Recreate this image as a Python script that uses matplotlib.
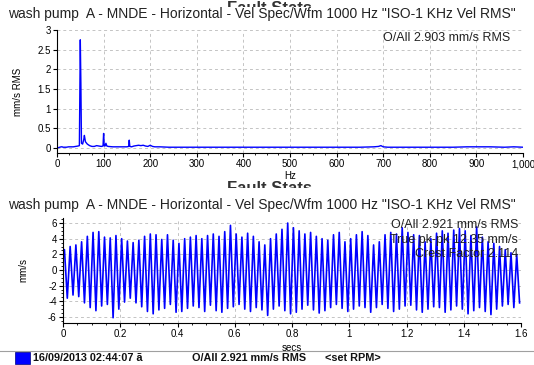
import numpy as np
import matplotlib.pyplot as plt
from matplotlib.ticker import FuncFormatter, MultipleLocator, AutoMinorLocator
from matplotlib.patches import Rectangle
from matplotlib.lines import Line2D
from matplotlib.transforms import Bbox, TransformedBbox

plt.rcParams['font.family'] = ['Liberation Sans', 'DejaVu Sans']

TITLE = 'wash pump  A - MNDE - Horizontal - Vel Spec/Wfm 1000 Hz "ISO-1 KHz Vel RMS"'
HIDDEN = 'Fault Stats'

# spectrum, Hz vs mm/s RMS
spec_hz = [0, 3, 6, 9, 11, 13, 16, 20, 25, 30, 35, 40, 45, 48, 50, 51.25, 52.5, 55,
           57.5, 58.75, 61, 65, 70, 75, 80, 85, 90, 95, 98.75, 100, 101.25, 103, 105,
           107, 110, 120, 130, 140, 150, 153.75, 155, 156.25, 160, 165, 170, 175, 180,
           185, 190, 195, 200, 205, 210, 220, 240, 260, 280, 300, 330, 360, 400, 450,
           500, 550, 600, 650, 680, 690, 695, 700, 710, 750, 800, 850, 880, 900, 930,
           960, 980, 1000]
spec_amp = [0.01, 0.01, 0.02, 0.03, 0.03, 0.02, 0.02, 0.02, 0.03, 0.03, 0.03, 0.04, 0.05,
            0.06, 2.75, 1.65, 0.12, 0.10, 0.22, 0.32, 0.16, 0.10, 0.06, 0.04, 0.04, 0.06,
            0.05, 0.04, 0.05, 0.37, 0.06, 0.05, 0.12, 0.05, 0.04, 0.03, 0.03, 0.03, 0.03,
            0.04, 0.20, 0.04, 0.03, 0.05, 0.06, 0.07, 0.06, 0.07, 0.05, 0.04, 0.07, 0.04,
            0.03, 0.03, 0.02, 0.02, 0.02, 0.02, 0.02, 0.02, 0.02, 0.02, 0.02, 0.02, 0.02,
            0.02, 0.03, 0.04, 0.06, 0.03, 0.02, 0.02, 0.02, 0.02, 0.03, 0.03, 0.03, 0.02,
            0.03, 0.02]

# waveform: per-cycle peaks and troughs, mm/s
wave_freq = 50.0
wave_peaks = [2.6, 3.0, 3.2, 3.6, 4.3, 4.8, 4.9, 4.2, 4.1, 4.4,
              4.0, 3.7, 3.5, 3.8, 4.3, 4.6, 4.5, 3.9, 4.5, 3.8,
              3.4, 4.0, 4.2, 4.4, 4.0, 4.4, 4.6, 4.3, 4.9, 5.7,
              4.6, 4.2, 4.7, 4.3, 3.6, 3.2, 4.0, 4.6, 5.2, 6.0,
              5.4, 5.0, 4.6, 4.8, 4.3, 4.0, 3.8, 4.5, 4.8, 3.6,
              4.0, 4.5, 4.9, 4.4, 3.2, 3.6, 4.5, 4.8, 4.6, 5.4,
              4.8, 4.5, 4.4, 3.6, 4.0, 4.7, 5.0, 4.7, 5.1, 5.3,
              5.0, 4.4, 5.5, 4.2, 3.6, 3.4, 3.0, 2.6, 2.2, 2.0]
wave_troughs = [-3.6, -3.2, -3.4, -4.2, -4.8, -5.2, -4.6, -4.4, -6.1, -5.0,
                -4.1, -3.6, -4.2, -4.7, -5.3, -5.6, -5.1, -4.9, -4.4, -5.4,
                -5.3, -4.9, -4.6, -4.8, -5.3, -4.5, -5.2, -5.4, -4.9, -4.7,
                -4.4, -5.0, -5.3, -4.8, -5.1, -5.8, -5.0, -4.6, -5.2, -5.6,
                -5.4, -5.0, -4.5, -5.1, -5.5, -5.2, -4.8, -4.4, -4.9, -5.3,
                -5.0, -4.6, -4.8, -5.4, -4.8, -4.4, -4.9, -5.3, -5.0, -4.6,
                -4.5, -5.1, -5.4, -5.0, -4.7, -4.8, -5.4, -5.1, -4.6, -5.0,
                -5.6, -5.2, -4.8, -5.3, -5.7, -5.0, -4.6, -4.4, -4.8, -4.2]

spec_note = 'O/All 2.903 mm/s RMS'
wave_notes = ['O/All 2.921 mm/s RMS', 'True pk-pk 12.35 mm/s', 'Crest Factor 2.114']
status = ['16/09/2013 02:44:07 \u00e3', 'O/All 2.921 mm/s RMS', '<set RPM>']

W, H = 534, 365
fig = plt.figure(figsize=(W / 100, H / 100), dpi=100)

def fx(px):
    return px / W

def fy(py):
    return 1 - py / H

def style_axes(ax):
    for s in ['top', 'right']:
        ax.spines[s].set_visible(False)
    ax.grid(True, which='major', ls=(0, (3, 3)), color='#c4c4c4', lw=0.7)
    ax.tick_params(which='major', labelsize=7, length=3, width=0.8, pad=1.5)
    ax.tick_params(which='minor', length=1.5, width=0.6)

def num_fmt(x, pos):
    if abs(x - round(x)) < 1e-9:
        return f'{int(round(x)):,}'
    return f'{x:g}'

# top: spectrum
ax1 = fig.add_axes([fx(57), fy(153), fx(523) - fx(57), fy(30) - fy(153)])
ax1.plot(spec_hz, spec_amp, color='#0000ff', lw=1.0)
ax1.set_xlim(0, 1000)
ax1.set_ylim(-0.127, 3)
ax1.xaxis.set_major_locator(MultipleLocator(100))
ax1.xaxis.set_minor_locator(AutoMinorLocator(4))
ax1.yaxis.set_major_locator(MultipleLocator(0.5))
ax1.xaxis.set_major_formatter(FuncFormatter(num_fmt))
ax1.yaxis.set_major_formatter(FuncFormatter(num_fmt))
style_axes(ax1)
ax1.set_xlabel('Hz', fontsize=7, labelpad=1)
ax1.set_ylabel('mm/s RMS', fontsize=7, labelpad=10)
ax1.text(fx(510), fy(38), spec_note, transform=fig.transFigure, ha='right', va='center',
         fontsize=9, color='#222222')

# bottom: waveform
t_vals = [0.0]
y_vals = [2.4]
for k in range(len(wave_peaks)):
    t_vals += [(k + 0.25) / wave_freq, (k + 0.75) / wave_freq]
    y_vals += [wave_peaks[k], wave_troughs[k]]

ax2 = fig.add_axes([fx(63), fy(323), fx(521) - fx(63), fy(218) - fy(323)])
ax2.plot(t_vals, y_vals, color='#0000ff', lw=1.2)
ax2.set_xlim(0, 1.6)
ax2.set_ylim(-6.77, 6.64)
ax2.xaxis.set_major_locator(MultipleLocator(0.2))
ax2.xaxis.set_minor_locator(AutoMinorLocator(4))
ax2.yaxis.set_major_locator(MultipleLocator(2))
ax2.yaxis.set_minor_locator(AutoMinorLocator(4))
ax2.xaxis.set_major_formatter(FuncFormatter(num_fmt))
ax2.yaxis.set_major_formatter(FuncFormatter(num_fmt))
style_axes(ax2)
ax2.set_xlabel('secs', fontsize=7, labelpad=3)
ax2.set_ylabel('mm/s', fontsize=7, labelpad=14)
for i, note in enumerate(wave_notes):
    ax2.text(fx(518), fy(225 + 14.5 * i), note, transform=fig.transFigure, ha='right',
             va='center', fontsize=9, color='#222222', zorder=5)

# titles, each with a header behind it of which only the top shows
for ytop, yclip, ytitle in [(1, 7, 14), (181, 188, 205)]:
    hdr = fig.text(0.505, fy(ytop), HIDDEN, ha='center', va='top', fontsize=12,
                   color='#333333', weight='bold')
    hdr.set_clip_box(TransformedBbox(Bbox([[0, fy(yclip)], [1, 1]]), fig.transFigure))
    hdr.set_clip_on(True)
    fig.text(fx(8), fy(ytitle), TITLE, ha='left', va='center', fontsize=10,
             color='#222222')

# status bar
fig.patches.append(Rectangle((0, 0), 1, fy(351), transform=fig.transFigure,
                             facecolor='white', edgecolor='none', zorder=10))
fig.lines.append(Line2D([0, 1], [fy(351), fy(351)], transform=fig.transFigure,
                        color='#a0a0a0', lw=0.8, zorder=11))
fig.patches.append(Rectangle((fx(15), fy(364)), fx(15), fy(352) - fy(364),
                             transform=fig.transFigure, facecolor='#0000ff',
                             edgecolor='#000080', lw=0.5, zorder=11))
for xp, txt in zip([33, 192, 325], status):
    fig.text(fx(xp), fy(358), txt, ha='left', va='center', fontsize=7.8,
             weight='bold', color='#111111', zorder=12)

plt.savefig('out.png', dpi=100)
